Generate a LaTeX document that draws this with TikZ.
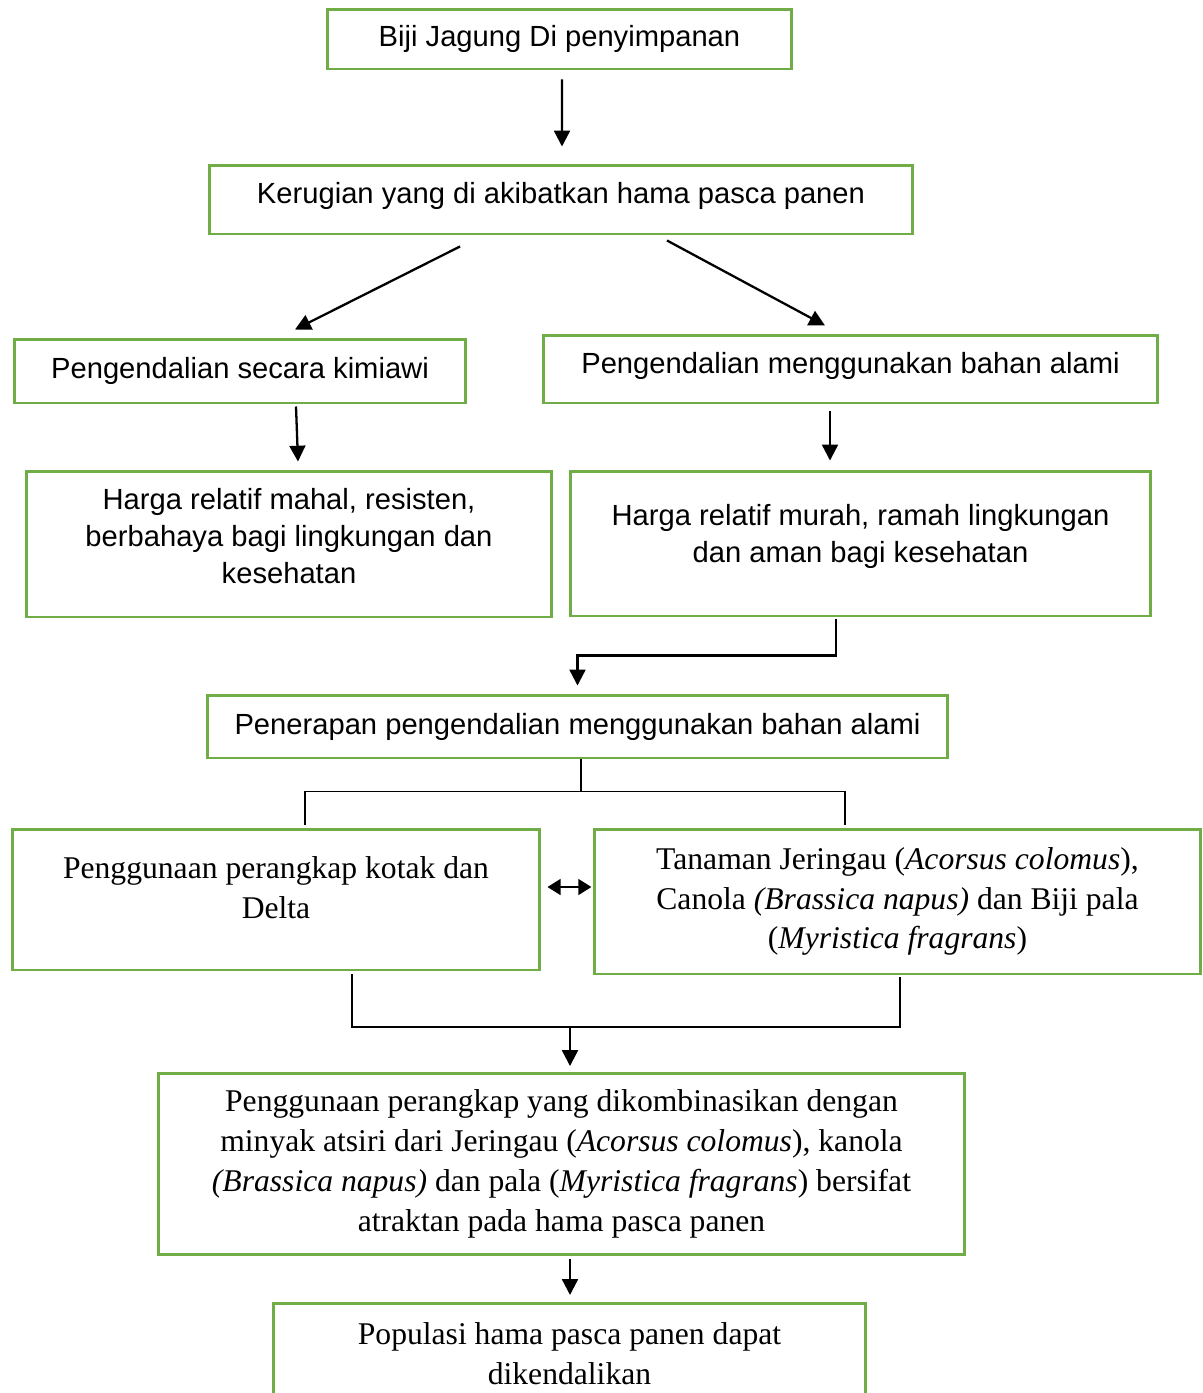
\documentclass[tikz,border=0pt]{standalone}
\usepackage{fontspec}
\setmainfont{Liberation Serif}
\setsansfont{Liberation Sans}
\usetikzlibrary{calc, arrows.meta, positioning}
\definecolor{boxgreen}{HTML}{70AD47}
\tikzstyle{box}=[draw=boxgreen, line width=1.7pt, rectangle, inner sep=0pt, align=center]
\tikzstyle{sans}=[font=\sffamily\fontsize{16.6}{21}\selectfont]
\tikzstyle{serif}=[font=\fontsize{18}{22.7}\selectfont]
\tikzstyle{arr}=[line width=1.3pt, -{Triangle[length=9pt,width=9pt]}]
\tikzstyle{darr}=[line width=1.3pt, {Triangle[length=7.5pt,width=9pt]}-{Triangle[length=7.5pt,width=9pt]}]
\tikzstyle{link}=[line width=1.1pt]

\begin{document}
\begin{tikzpicture}[x=0.02cm, y=-0.02cm]
\useasboundingbox (0,0) rectangle (1203,1393);
\node [box, sans, minimum width=9.3cm, minimum height=1.2cm] (jagung) at (559.5,39) {Biji Jagung Di penyimpanan};
\node [box, sans, minimum width=14.08cm, minimum height=1.38cm, text depth=7pt] (rugi) at (561,199.5) {Kerugian yang di akibatkan hama pasca panen};
\node [box, sans, minimum width=9.04cm, minimum height=1.28cm] (kimia) at (240,371) {Pengendalian secara kimiawi};
\node [box, sans, minimum width=12.3cm, minimum height=1.36cm, text depth=7pt] (alami) at (850.5,369) {Pengendalian menggunakan bahan alami};
\node [box, sans, minimum width=10.52cm, minimum height=2.92cm, text depth=9pt] (mahal) at (289,544) {Harga relatif mahal, resisten,\\berbahaya bagi lingkungan dan\\kesehatan};
\node [box, sans, minimum width=11.62cm, minimum height=2.9cm, text depth=11.5pt] (murah) at (860.5,543.5) {Harga relatif murah, ramah lingkungan\\dan aman bagi kesehatan};
\node [box, sans, minimum width=14.82cm, minimum height=1.26cm] (terap) at (577.5,726.5) {Penerapan pengendalian menggunakan bahan alami};
\node [box, serif, minimum width=10.56cm, minimum height=2.82cm, text depth=13.6pt] (kotak) at (276,899.5) {Penggunaan perangkap kotak dan\\Delta};
\node [box, serif, minimum width=12.14cm, minimum height=2.9cm] (tanam) at (897.5,901.5) {Tanaman Jeringau (\textit{Acorsus colomus}),\\Canola \textit{(Brassica napus)} dan Biji pala\\(\textit{Myristica fragrans})};
\node [box, serif, minimum width=16.14cm, minimum height=3.62cm] (kombi) at (561.5,1164) {Penggunaan perangkap yang dikombinasikan dengan\\minyak atsiri dari Jeringau (\textit{Acorsus colomus}), kanola\\\textit{(Brassica napus)} dan pala (\textit{Myristica fragrans}) bersifat\\atraktan pada hama pasca panen};
\node [box, serif, minimum width=11.86cm, minimum height=2cm, anchor=north] (populasi) at (569.5,1302) {Populasi hama pasca panen dapat\\dikendalikan};

\draw [arr] ($(jagung.south)+(2.5,9)$) -- ($(rugi.north)+(1,-17)$);
\draw [arr] ($(rugi.south)+(-101,11)$) -- ($(kimia.north)+(55,-8)$);
\draw [arr] ($(rugi.south)+(106,5)$) -- ($(alami.north)+(-25.5,-8)$);
\draw [arr] ($(kimia.south)+(56,2)$) -- ($(mahal.north)+(9,-8)$);
\draw [arr] ($(alami.south)+(-20.5,7)$) -- ($(murah.north)+(-30.5,-9)$);
\draw [arr] ($(murah.south)+(-24.5,2)$) -- ++(0,36) -| ($(terap.north)+(0,-8)$);
\draw [link] ($(terap.south)+(3.5,0)$) -- ++(0,32);
\draw [link] ($(kotak.north)+(29,-3)$) |- ($(terap.south)+(3.5,32)$) -| ($(tanam.north)+(-52.5,-3)$);
\draw [darr] ($(kotak.east)+(6,-12.5)$) -- ++(44,0);
\draw [link] ($(kotak.south)+(76,3)$) |- ($(kombi.north)+(8.5,-45)$) -| ($(tanam.south)+(2.5,2)$);
\draw [arr] ($(kombi.north)+(8.5,-45)$) -- ($(kombi.north)+(8.5,-6)$);
\draw [arr] ($(kombi.south)+(8.5,3)$) -- ($(populasi.north)+(0.5,-7)$);
\end{tikzpicture}
\end{document}
